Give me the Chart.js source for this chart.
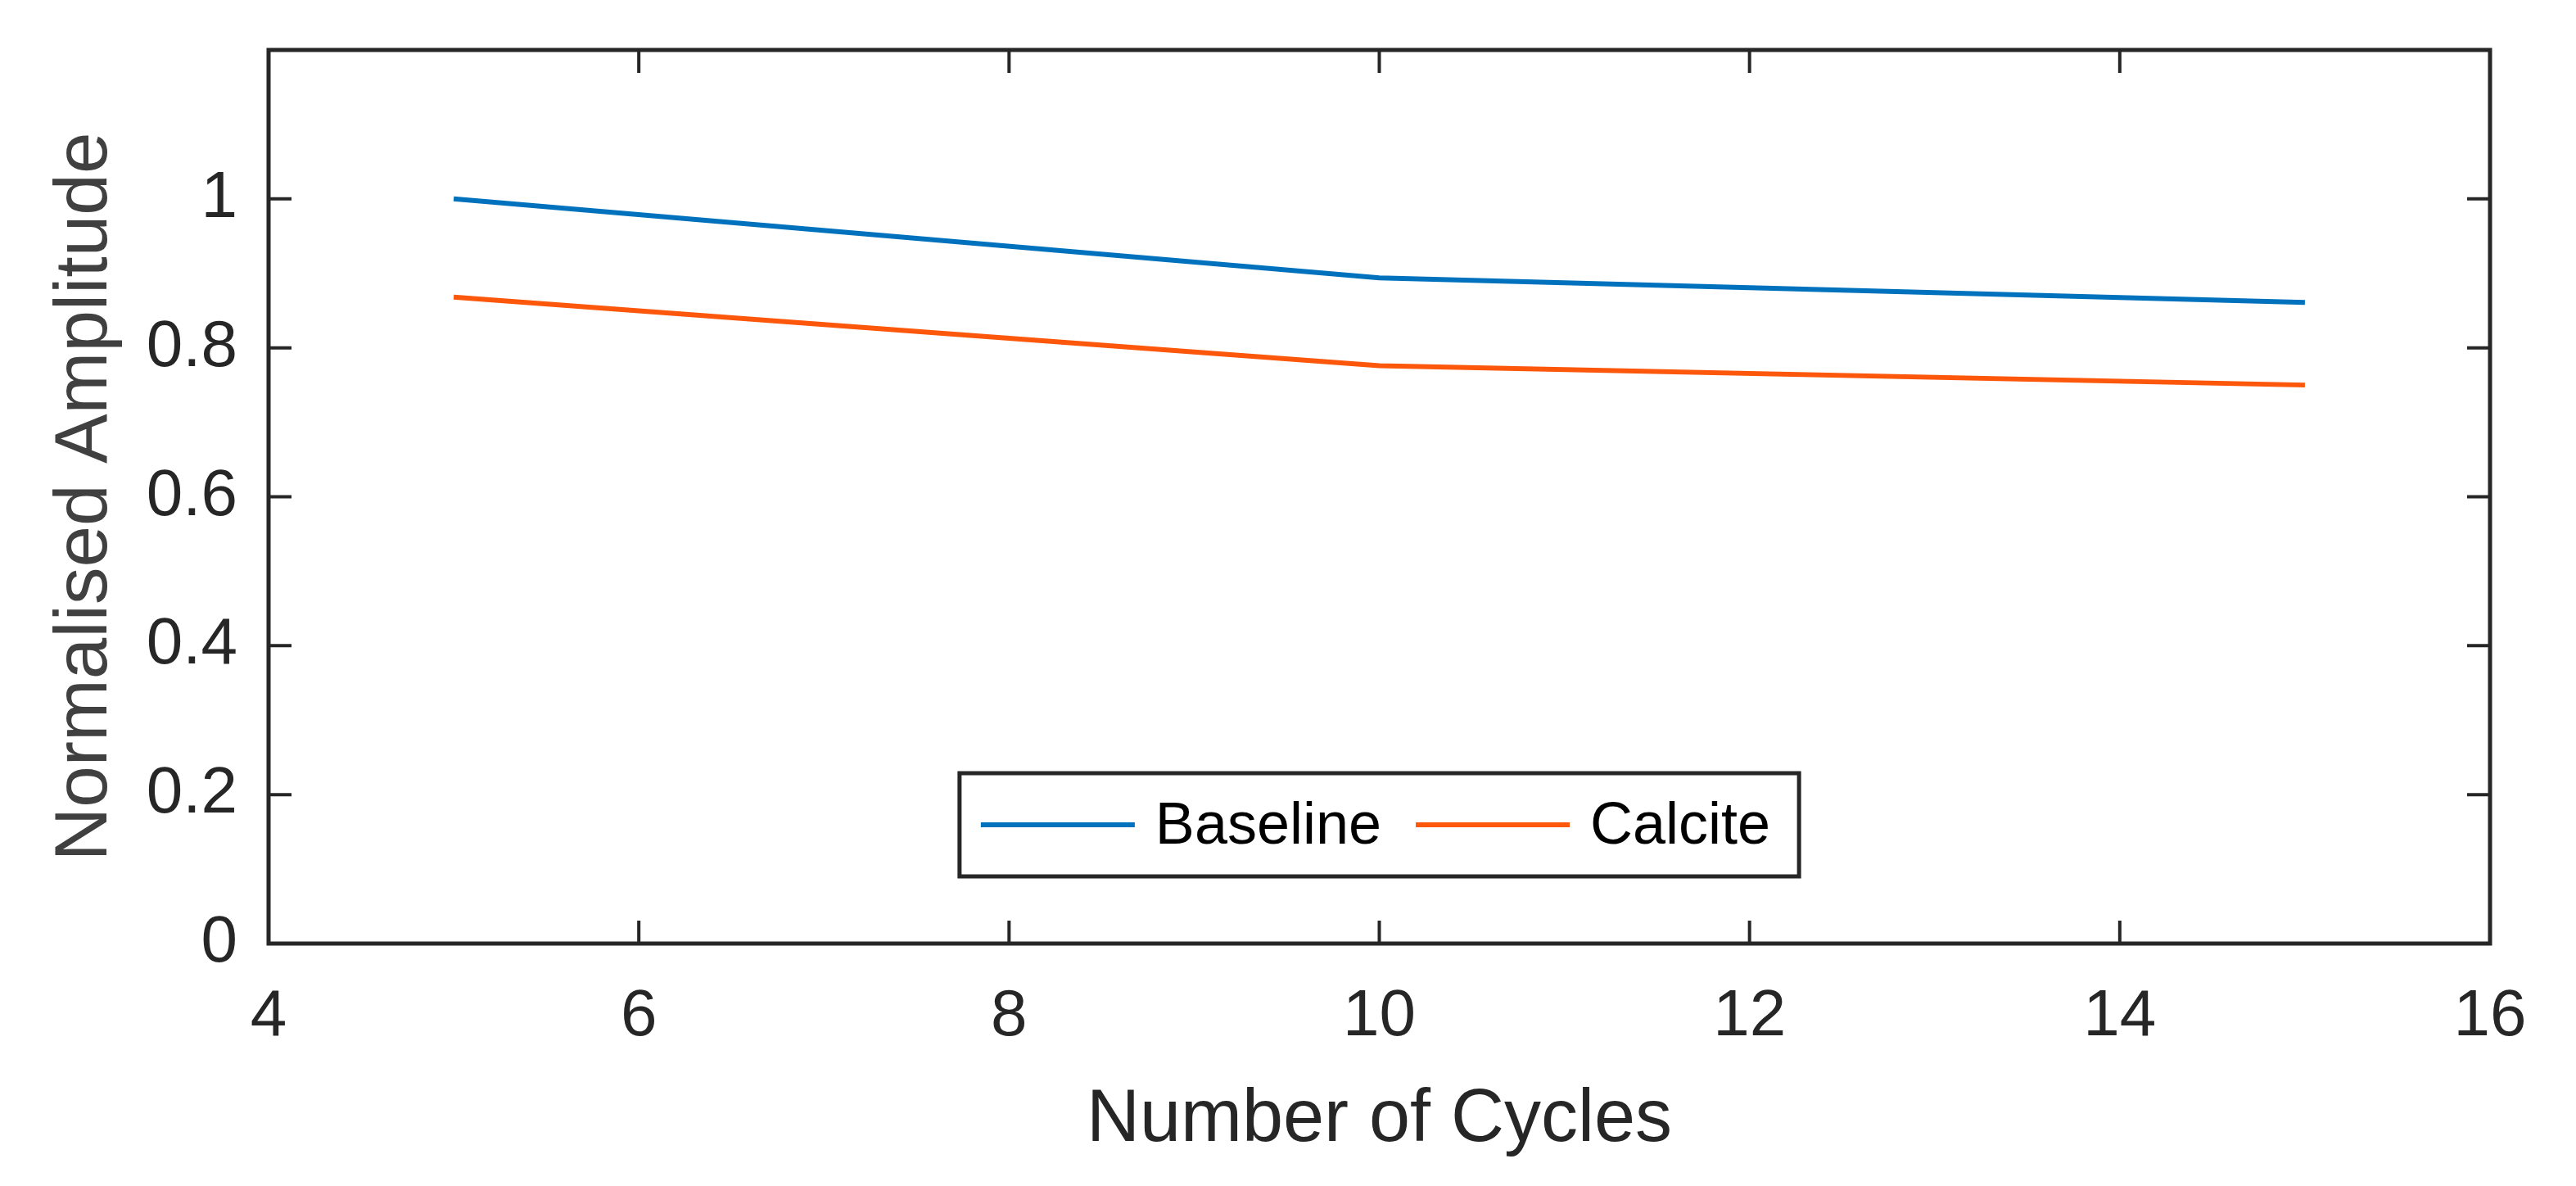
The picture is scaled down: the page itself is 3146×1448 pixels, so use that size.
<!DOCTYPE html>
<html>
<head>
<meta charset="utf-8">
<script src="https://cdn.jsdelivr.net/npm/chart.js@4/dist/chart.umd.min.js"></script>
<style>
    html, body { margin: 0; padding: 0; background: #ffffff; }
    #wrap { width: 3146px; height: 1448px; }
</style>
</head>
<body>
<div id="wrap"><canvas id="lineChart" width="3146" height="1448"></canvas></div>
<script>
// values
var cycles = [5, 10, 15];
var baseline = [1.0, 0.894, 0.861];
var calcite = [0.868, 0.776, 0.750];
var seriesNames = ['Baseline', 'Calcite'];
var seriesColors = ['#0072BD', '#FC570B'];
var xTickValues = [4, 6, 8, 10, 12, 14, 16];
var yTickValues = [0, 0.2, 0.4, 0.6, 0.8, 1];

var axisColor = '#262626';

function toPoints(xs, ys) {
    return xs.map(function (x, i) { return { x: x, y: ys[i] }; });
}

// box, inward ticks and the boxed legend, drawn after the chart
var matlabFrame = {
    id: 'matlabFrame',
    afterDraw: function (chart) {
        var ctx = chart.ctx;
        var area = chart.chartArea;
        var xs = chart.scales.x;
        var ys = chart.scales.y;
        var tickLen = 28;

        ctx.save();
        ctx.strokeStyle = axisColor;
        ctx.lineWidth = 4;
        ctx.beginPath();
        xTickValues.forEach(function (v) {
            var px = xs.getPixelForValue(v);
            ctx.moveTo(px, area.bottom);
            ctx.lineTo(px, area.bottom - tickLen);
            ctx.moveTo(px, area.top);
            ctx.lineTo(px, area.top + tickLen);
        });
        yTickValues.forEach(function (v) {
            var py = ys.getPixelForValue(v);
            ctx.moveTo(area.left, py);
            ctx.lineTo(area.left + tickLen, py);
            ctx.moveTo(area.right, py);
            ctx.lineTo(area.right - tickLen, py);
        });
        ctx.stroke();

        ctx.lineWidth = 5;
        ctx.strokeRect(area.left, area.top, area.right - area.left, area.bottom - area.top);

        // legend
        ctx.font = '72px "Liberation Sans", Arial, sans-serif';
        var lineLen = 188;
        var widths = chart.data.datasets.map(function (ds) { return ctx.measureText(ds.label).width; });
        var padL = 26, gapText = 25, gapItem = 42, padR = 35;
        var total = padL + padR;
        widths.forEach(function (w, i) {
            total += lineLen + gapText + w;
            if (i > 0) total += gapItem;
        });
        var boxH = 126;
        var boxBottom = area.bottom - 82;
        var boxTop = boxBottom - boxH;
        var boxLeft = (area.left + area.right) / 2 - total / 2;
        var midY = boxTop + boxH / 2;

        ctx.fillStyle = '#ffffff';
        ctx.fillRect(boxLeft, boxTop, total, boxH);
        ctx.strokeStyle = axisColor;
        ctx.lineWidth = 5;
        ctx.strokeRect(boxLeft, boxTop, total, boxH);

        var cx = boxLeft + padL;
        chart.data.datasets.forEach(function (ds, i) {
            if (i > 0) cx += gapItem;
            ctx.strokeStyle = ds.borderColor;
            ctx.lineWidth = 6;
            ctx.beginPath();
            ctx.moveTo(cx, midY);
            ctx.lineTo(cx + lineLen, midY);
            ctx.stroke();
            cx += lineLen + gapText;
            ctx.fillStyle = '#000000';
            ctx.textAlign = 'left';
            ctx.textBaseline = 'middle';
            ctx.fillText(ds.label, cx, midY + 3);
            cx += widths[i];
        });
        ctx.restore();
    }
};

var ctx = document.getElementById('lineChart').getContext('2d');
var myChart = new Chart(ctx, {
    type: 'line',
    data: {
        datasets: [{
            label: seriesNames[0],
            data: toPoints(cycles, baseline),
            borderColor: seriesColors[0],
            borderWidth: 6,
            pointRadius: 0,
            tension: 0,
            fill: false
        }, {
            label: seriesNames[1],
            data: toPoints(cycles, calcite),
            borderColor: seriesColors[1],
            borderWidth: 6,
            pointRadius: 0,
            tension: 0,
            fill: false
        }]
    },
    options: {
        responsive: false,
        devicePixelRatio: 1,
        animation: false,
        layout: {
            padding: { top: 61, right: 105, bottom: 0, left: 0 }
        },
        plugins: {
            legend: { display: false },
            tooltip: { enabled: false }
        },
        scales: {
            x: {
                type: 'linear',
                min: 4,
                max: 16,
                afterBuildTicks: function (scale) {
                    scale.ticks = xTickValues.map(function (v) { return { value: v }; });
                },
                afterFit: function (scale) {
                    scale.height = 296;
                    scale.paddingLeft = 0;
                    scale.paddingRight = 0;
                },
                grid: { display: false, drawTicks: false },
                border: { display: false },
                ticks: {
                    padding: 42,
                    color: axisColor,
                    font: { family: '"Liberation Sans", Arial, sans-serif', size: 80, lineHeight: 1.2 },
                    callback: function (v) { return String(v); }
                },
                title: {
                    display: true,
                    text: 'Number of Cycles',
                    color: axisColor,
                    font: { family: '"Liberation Sans", Arial, sans-serif', size: 90, lineHeight: 1 },
                    padding: { top: 0, bottom: 35 }
                }
            },
            y: {
                type: 'linear',
                min: 0,
                max: 1.2,
                afterBuildTicks: function (scale) {
                    scale.ticks = yTickValues.map(function (v) { return { value: v }; });
                },
                afterFit: function (scale) {
                    scale.width = 328;
                    scale.paddingTop = 0;
                    scale.paddingBottom = 0;
                },
                grid: { display: false, drawTicks: false },
                border: { display: false },
                ticks: {
                    padding: 38,
                    color: axisColor,
                    font: { family: '"Liberation Sans", Arial, sans-serif', size: 80, lineHeight: 1.2 },
                    callback: function (v) { return String(Number(v.toFixed(1))); }
                },
                title: {
                    display: true,
                    text: 'Normalised Amplitude',
                    color: '#404040',
                    font: { family: '"Liberation Sans", Arial, sans-serif', size: 91, lineHeight: 1 },
                    padding: { top: 59, bottom: 0 }
                }
            }
        }
    },
    plugins: [matlabFrame]
});
</script>
</body>
</html>
